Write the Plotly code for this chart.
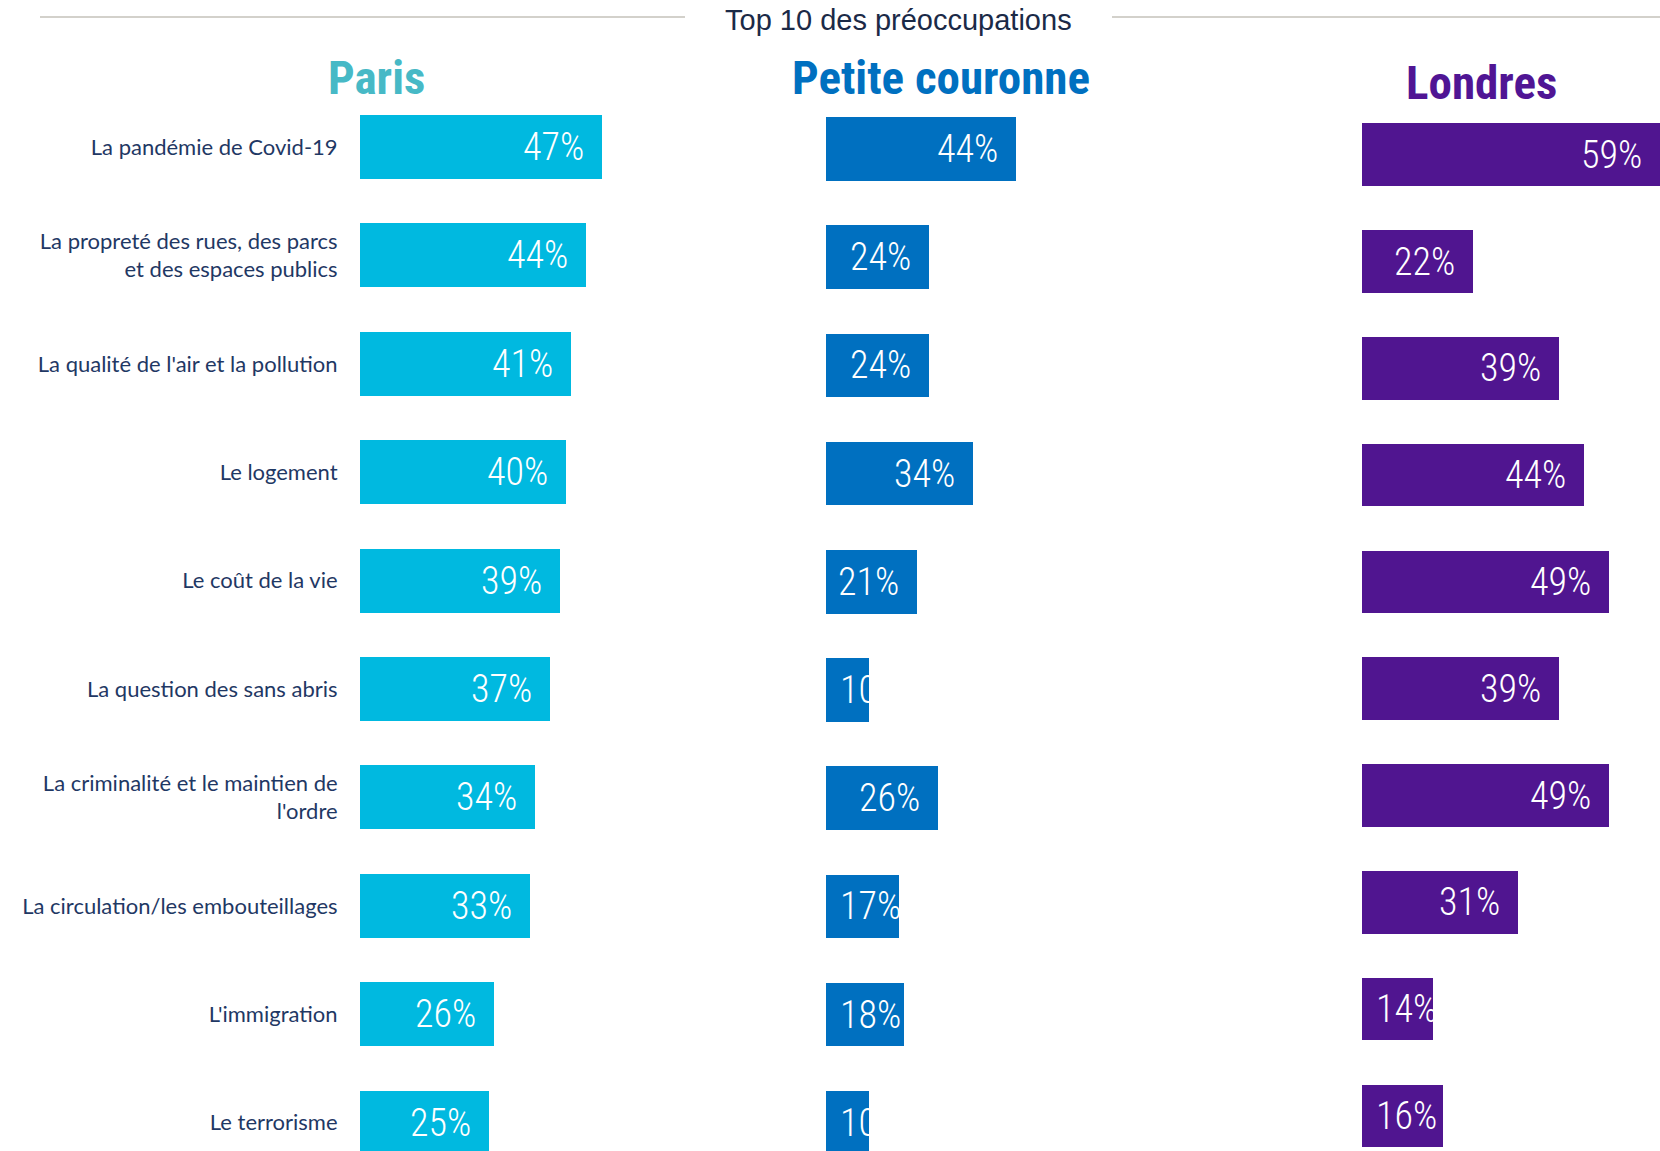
import plotly.graph_objects as go

# ---------------- data ----------------
categories = [
    "La pandémie de Covid-19",
    "La propreté des rues, des parcs<br>et des espaces publics",
    "La qualité de l'air et la pollution",
    "Le logement",
    "Le coût de la vie",
    "La question des sans abris",
    "La criminalité et le maintien de<br>l'ordre",
    "La circulation/les embouteillages",
    "L'immigration",
    "Le terrorisme",
]
paris = [47, 44, 41, 40, 39, 37, 34, 33, 26, 25]
petite_couronne = [44, 24, 24, 34, 21, 10, 26, 17, 18, 10]
londres = [59, 22, 39, 44, 49, 39, 49, 31, 14, 16]
panel_names = ["Paris", "Petite couronne", "Londres"]
title_text = "Top 10 des préoccupations"

# ---------------- layout constants ----------------
W, H = 1660, 1151
COND = "Roboto Condensed, Roboto, sans-serif"
LABEL_FONT = "Lato, Carlito, Calibri, Open Sans, sans-serif"

panels = [
    dict(vals=paris, color="#00B9E0", head="#47B9C6", x0=360.0, x1=360.0 + 60 * 5.14, xmax=60,
         c0=147.0, step=108.4, bh=64.0, hx=376, hy=78),
    dict(vals=petite_couronne, color="#0070C0", head="#0070C0", x0=826.0, x1=826.0 + 60 * 4.31, xmax=60,
         c0=149.0, step=108.2, bh=63.7, hx=941, hy=77),
    dict(vals=londres, color="#501590", head="#501594", x0=1361.7, x1=1660.0, xmax=59.1,
         c0=154.7, step=106.8, bh=62.7, hx=1481, hy=82),
]

fig = go.Figure()
annotations = []
TEXT_W = 62  # approx width of a value label in px

for i, p in enumerate(panels):
    sfx = "" if i == 0 else str(i + 1)
    xa, ya = "x" + sfx, "y" + sfx
    fig.add_trace(go.Bar(
        x=p["vals"], y=categories, orientation="h",
        xaxis=xa, yaxis=ya,
        marker=dict(color=p["color"], line=dict(width=0)),
        width=p["bh"] / p["step"],
        hoverinfo="skip",
    ))
    ppu = (p["x1"] - p["x0"]) / p["xmax"]
    fig.layout["xaxis" + sfx] = dict(
        domain=[p["x0"] / W, min(1.0, p["x1"] / W)], range=[0, p["xmax"]],
        anchor=ya, showgrid=False, zeroline=False, showticklabels=False,
        showline=False, fixedrange=True,
    )
    fig.layout["yaxis" + sfx] = dict(
        domain=[0, 1], anchor=xa, type="category",
        range=[(H - p["c0"]) / p["step"], -p["c0"] / p["step"]],
        showgrid=False, zeroline=False, showline=False,
        showticklabels=(i == 0),
        ticks="outside" if i == 0 else "", ticklen=17, tickcolor="rgba(0,0,0,0)",
        tickfont=dict(family=LABEL_FONT, size=22, color="#1F3864"),
        fixedrange=True,
    )
    for cat, v in zip(categories, p["vals"]):
        bar_px = v * ppu
        if bar_px - 16 - TEXT_W < 10:
            ann = dict(x=0, xanchor="left", xshift=12)
        else:
            ann = dict(x=v, xanchor="right", xshift=-16)
        ann.update(y=cat, xref=xa, yref=ya, yanchor="middle", showarrow=False,
                   text=f"{v}%", font=dict(family=COND, size=38, color="white", weight=300))
        annotations.append(ann)
    annotations.append(dict(
        x=p["hx"] / W, y=1 - p["hy"] / H, xref="paper", yref="paper",
        xanchor="center", yanchor="middle", showarrow=False,
        text=panel_names[i],
        font=dict(family=COND, size=47, color=p["head"], weight="bold"),
    ))

annotations.append(dict(
    x=898 / W, y=1 - 20 / H, xref="paper", yref="paper",
    xanchor="center", yanchor="middle", showarrow=False,
    text=title_text,
    font=dict(family="Liberation Sans, Arial, sans-serif", size=29, color="#1B2A47"),
))

shapes = [
    dict(type="line", xref="paper", yref="paper", x0=40 / W, x1=685 / W,
         y0=1 - 17 / H, y1=1 - 17 / H, line=dict(color="#D3D1CB", width=2)),
    dict(type="line", xref="paper", yref="paper", x0=1112 / W, x1=1.0,
         y0=1 - 17 / H, y1=1 - 17 / H, line=dict(color="#D3D1CB", width=2)),
]

fig.update_layout(
    width=W, height=H,
    margin=dict(l=0, r=0, t=0, b=0, pad=0),
    paper_bgcolor="white", plot_bgcolor="white",
    showlegend=False, bargap=0,
    annotations=annotations, shapes=shapes,
)

fig.write_html(
    "out.html",
    config={"displayModeBar": False},
    post_script="document.body.style.margin='0';document.body.style.overflow='hidden';",
)
